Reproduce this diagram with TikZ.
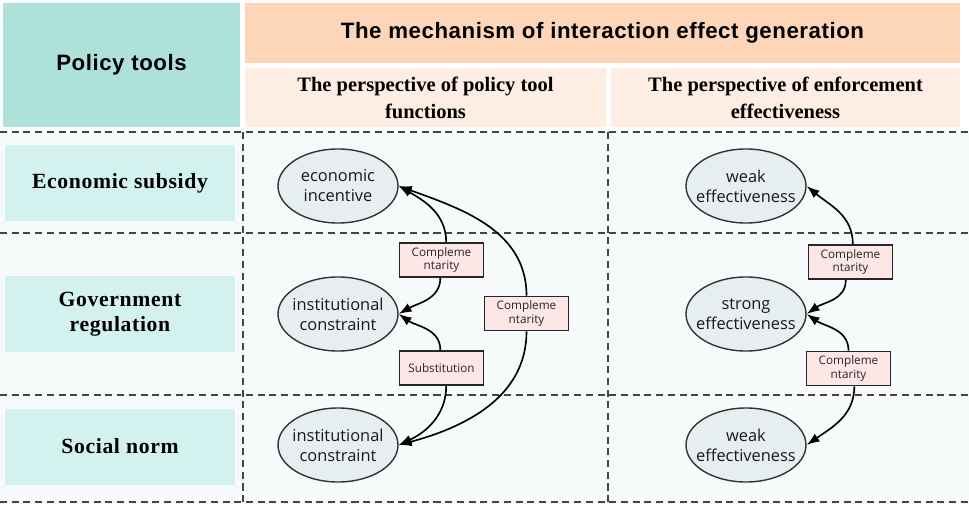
\documentclass[tikz,border=0pt]{standalone}
\usepackage{fontspec}
\setmainfont{Liberation Serif}
\newfontfamily\headfont[LetterSpace=2.5]{Liberation Sans}
\newfontfamily\rowfont[LetterSpace=3]{Liberation Serif}
\newfontfamily\ovalfont{Open Sans}
\usetikzlibrary{shapes.geometric,arrows.meta}
\definecolor{toolteal}{HTML}{AEE1DA}
\definecolor{rowteal}{HTML}{D3F1EE}
\definecolor{titlepeach}{HTML}{FDD6BA}
\definecolor{subpeach}{HTML}{FEEDE2}
\definecolor{bodybg}{HTML}{F6FAFB}
\definecolor{ovalfill}{HTML}{E6EEF0}
\definecolor{tagpink}{HTML}{FDE6E6}
\definecolor{linegray}{HTML}{444444}
\begin{document}
\begin{tikzpicture}[x=0.03cm,y=-0.03cm,
    cell/.style={inner sep=0pt,align=center},
    rowcell/.style={cell,fill=rowteal,minimum width=6.9cm,minimum height=2.28cm,font=\rowfont\fontsize{18.5}{21}\selectfont\bfseries},
    subcell/.style={cell,fill=subpeach,minimum height=1.77cm,font=\fontsize{17.5}{23}\selectfont\bfseries},
    oval/.style={ellipse,draw=black!80,line width=1.2pt,fill=ovalfill,minimum width=3.6cm,minimum height=2.22cm,inner sep=0pt},
    ovaltext/.style={align=center,font=\ovalfont\fontsize{14}{17}\selectfont,text=black!90},
    tag/.style={draw=black!85,line width=1.6pt,fill=tagpink,minimum width=2.52cm,minimum height=1.02cm,inner sep=1pt,align=center,font=\ovalfont\fontsize{10}{11.5}\selectfont,text=black!85},
    link/.style={line width=1.4pt,-{Latex[length=11pt,width=8pt]}},
    grid/.style={draw=linegray,line width=1.2pt,dash pattern=on 6pt off 4pt}]
    \useasboundingbox (0,0) rectangle (969,507);
    \fill[bodybg] (0,132) rectangle (969,504);
    % header
    \node[cell,fill=toolteal,minimum width=7.11cm,minimum height=3.72cm,font=\headfont\fontsize{19}{22}\selectfont\bfseries] (tools) at (121.5,65) {Policy tools};
    \node[cell,fill=titlepeach,minimum width=21.45cm,minimum height=1.8cm,font=\headfont\fontsize{19}{22}\selectfont\bfseries] (title) at (602.5,33) {The mechanism of interaction effect generation};
    \node[subcell,minimum width=10.83cm] (funcs) at (425.5,97.5) {The perspective of policy tool\\functions};
    \node[subcell,minimum width=10.47cm] (effect) at (785.5,97.5) {The perspective of enforcement\\effectiveness};
    % grid
    \draw[grid] (0,132) -- (969,132);
    \draw[grid] (0,233) -- (969,233);
    \draw[grid] (0,395) -- (969,395);
    \draw[grid] (0,502) -- (969,502);
    \draw[grid] (243,132) -- (243,502);
    \draw[grid] (608,132) -- (608,502);
    % policy tools
    \node[rowcell] (subsidy) at (120,183) {Economic subsidy};
    \node[rowcell] (regulation) at (120,314) {Government\\regulation};
    \node[rowcell] (norm) at (120,446.5) {Social norm};
    % tool functions
    \node[oval,label={[ovaltext]center:{economic\\incentive}}] (econ) at (338,186) {};
    \node[oval,label={[ovaltext]center:{institutional\\constraint}}] (inst) at (338,314) {};
    \node[oval,label={[ovaltext]center:{institutional\\constraint}}] (instb) at (338,445) {};
    \node[tag] (compa) at (441.5,260) {Compleme\\ntarity};
    \node[tag] (subst) at (441.5,368) {Substitution};
    \node[tag] (compb) at (526.5,313.5) {Compleme\\ntarity};
    \draw[link] ([xshift=4pt]compa.north) to[out=90,in=-30] (econ.east);
    \draw[link] ([xshift=-1pt]compa.south) to[out=-90,in=30] (inst.east);
    \draw[link] ([xshift=-1pt]subst.north) to[out=90,in=-35] (inst.east);
    \draw[link] ([xshift=4pt]subst.south) to[out=-90,in=25] (instb.east);
    \draw[link] (compb.north) to[out=90,in=-20] (econ.east);
    \draw[link] (compb.south) to[out=-90,in=15] (instb.east);
    % enforcement effectiveness
    \node[oval,label={[ovaltext]center:{weak\\effectiveness}}] (weak) at (746,186) {};
    \node[oval,label={[ovaltext]center:{strong\\effectiveness}}] (strong) at (746,314) {};
    \node[oval,label={[ovaltext]center:{weak\\effectiveness}}] (weakb) at (746,445) {};
    \node[tag] (compc) at (850.5,262) {Compleme\\ntarity};
    \node[tag] (compd) at (848.5,368.5) {Compleme\\ntarity};
    \draw[link] ([xshift=2pt]compc.north) to[out=90,in=-40] (weak.east);
    \draw[link] ([xshift=-4pt]compc.south) to[out=-90,in=35] (strong.east);
    \draw[link] (compd.north) to[out=90,in=-35] (strong.east);
    \draw[link] ([xshift=5pt]compd.south) to[out=-90,in=35] (weakb.east);
\end{tikzpicture}
\end{document}
